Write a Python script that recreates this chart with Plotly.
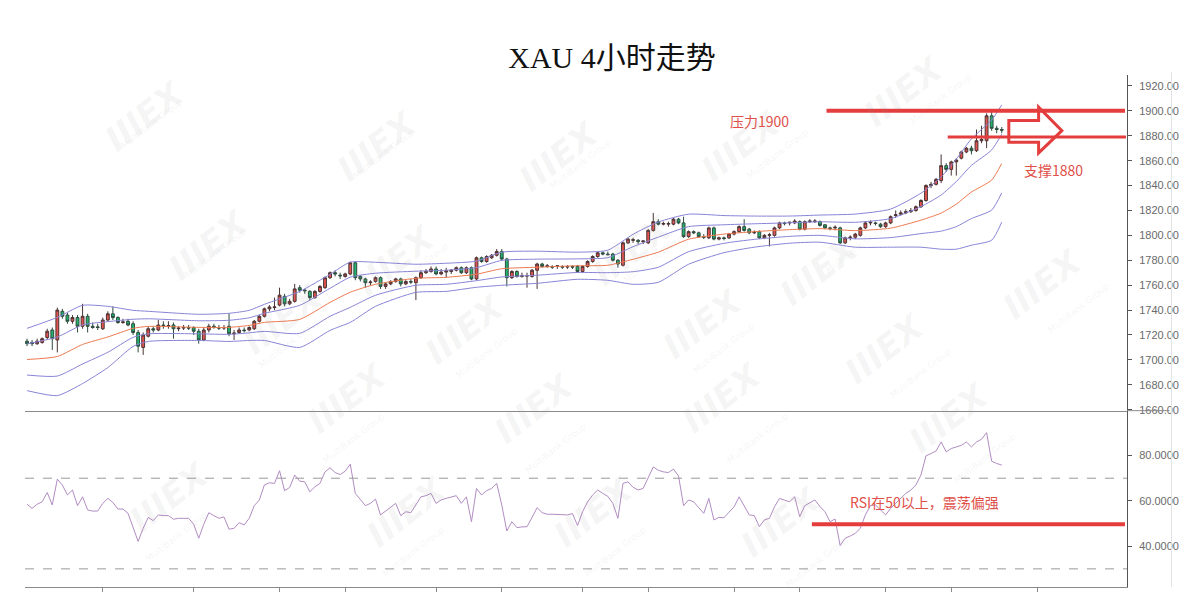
import plotly.graph_objects as go

# ---------------- data ----------------
opens = [1715,1714,1713,1714,1718,1724,1716,1739,1736,1731,
         1734,1727,1735,1727,1726.5,1725,1732,1737,1734,1730,
         1731,1729,1722,1710,1719,1725,1724,1728,1727,1728,
         1725,1725.5,1726,1726,1723,1716,1724,1727,1726,1725.5,
         1727,1721,1722,1724,1724,1725,1731,1735,1741,1742,
         1744,1751,1745,1747,1758,1756,1755,1750,1755,1758,
         1766,1770,1768,1767,1769,1778,1767,1765,1762,1763,
         1766,1759,1761,1763,1765,1761,1763,1762,1766,1770,
         1771,1773,1769,1770.5,1771,1772,1774,1770,1774,1765,
         1782,1779,1782,1784,1787,1781,1766,1771,1767,1767.5,
         1767,1772,1777,1775,1775,1775,1775,1774.5,1775,1775,
         1771,1775,1779,1783,1786,1785,1785,1780,1776,1794,
         1796,1796,1795,1794,1804,1811,1809,1809,1809,1813,
         1810,1799,1803,1802,1799,1798,1806,1797,1798,1798,
         1801,1803,1807,1805,1802,1803,1798,1800,1800,1806,
         1810,1810,1810,1811,1805,1811,1811,1811,1808.5,1806,
         1806,1806,1794,1798,1798.5,1800,1806,1810,1810,1809,
         1807,1810,1816,1817,1818,1819,1820,1823,1828,1840,
         1841,1844,1856,1853,1859,1862,1867,1870,1868,1876,
         1876,1896,1886,1885]
highs = [1717,1716,1717,1718,1725,1726,1742,1741,1738,1736,
         1736,1745,1737,1730,1729,1734,1739,1743,1735,1733,
         1733,1731,1724,1722,1727,1727,1732,1731,1731,1730,
         1727,1728,1728,1727,1725,1726,1729,1729,1728,1728,
         1737,1724,1726,1726,1727,1732,1736,1742,1744,1750,
         1758,1753,1749,1761,1760,1757,1756,1756,1760,1767,
         1771,1772,1770,1770,1779,1779,1768,1766,1764,1767,
         1767,1762,1764,1766,1766,1764,1765,1767,1772,1773,
         1775,1775,1773,1774,1773,1775,1775,1775,1775,1783,
         1783,1784,1785,1789,1789,1782,1772,1772,1770,1770,
         1773,1778,1778,1777,1776,1776,1776,1776,1776,1776,
         1776,1780,1784,1787,1787,1787,1786,1781,1795,1798,
         1798,1797,1796,1805,1818,1813,1811,1811,1814,1814,
         1815,1804,1804,1803,1801,1807,1807,1799,1799,1802,
         1804,1808,1813,1806,1804,1804,1801,1802,1807,1811,
         1811,1811,1813,1812,1812,1813,1813,1812,1809,1807,
         1808,1807,1799,1800,1802,1807,1811,1812,1811,1810,
         1811,1816,1820,1820,1821,1822,1824,1829,1841,1843,
         1846,1865,1858,1860,1862,1868,1871,1872,1885,1888,
         1898,1899,1888,1887]
lows = [1711,1711,1712,1713,1716,1708,1706,1733,1729,1729,
        1722,1725,1722,1725,1724,1724,1731,1732,1729,1729,
        1727,1720,1706,1704,1718,1722,1723,1725,1725,1717,
        1723,1724,1724,1720,1713,1715,1722,1725,1724,1724,
        1719,1716,1721,1722,1723,1724,1730,1734,1739,1740,
        1743,1743,1744,1746,1754,1753,1748,1749,1754,1757,
        1765,1767,1765,1766,1768,1764,1763,1758,1760,1762,
        1757,1757,1760,1762,1759,1760,1761,1748,1765,1769,
        1770,1768,1768,1766,1769,1771,1769,1769,1764,1764,
        1778,1778,1781,1783,1780,1759,1765,1766,1766,1758,
        1766,1757,1774,1774,1773,1773,1773,1773,1773,1770,
        1770,1774,1778,1782,1784,1784,1779,1774,1775,1793,
        1794,1793,1793,1793,1803,1808,1808,1807,1808,1809,
        1798,1798,1801,1798,1797,1797,1796,1796,1796,1797,
        1800,1802,1803,1801,1801,1797,1797,1791,1799,1805,
        1808,1808,1809,1804,1804,1810,1810,1807,1805,1804,
        1804,1793,1793,1796,1797,1799,1805,1808,1808,1806,
        1806,1809,1814,1816,1817,1818,1819,1822,1827,1838,
        1840,1842,1851,1848,1848,1861,1866,1865,1867,1874,
        1870,1884,1882,1882]
closes = [1713,1713,1715,1717,1723,1717,1740,1735,1731,1734,
          1727,1735,1727,1726,1726,1732,1737,1734,1730,1730.5,
          1728,1722,1711,1720,1725,1724,1728,1727.5,1727.5,1725,
          1725.5,1726,1725.5,1723,1716,1724,1727,1726,1725.5,1726,
          1721,1721.5,1724,1723.5,1726,1731,1735,1741,1742.5,1742.5,
          1752,1745,1747,1757,1756,1755.5,1750,1755,1759,1766,
          1770,1769,1767.5,1769,1778,1766,1765,1762,1762.5,1766,
          1759,1761,1763,1765,1761,1763,1762.5,1766,1770,1771,
          1773,1769,1770.5,1771.5,1772,1774,1770,1774,1765,1782,
          1779,1783,1784,1787,1781,1766,1771,1767,1767.5,1767.5,
          1772,1777,1775,1775.5,1774.5,1775.5,1774.5,1775,1774.5,1771,
          1775,1779,1783,1786,1785,1784.5,1780,1777,1794,1797,
          1796.5,1795,1795.5,1804,1811,1809,1809.5,1809.5,1813,1810,
          1799,1803,1802,1799,1798.5,1806,1797,1798,1797.5,1801,
          1803,1807,1804,1802,1802.5,1798,1800,1800.5,1806,1810,
          1809.5,1810.5,1811.5,1805,1811,1811.5,1811.5,1808,1806,1805.5,
          1806.5,1794,1798,1798.5,1801,1806,1810,1810.5,1809.5,1807,
          1810,1815,1816.5,1818,1819,1820,1823,1828,1840,1841,
          1845,1856,1853,1859,1860.5,1867,1870,1868,1876,1877,
          1896,1886,1885,1884.5]
rsi = [58.5,56.7,58.5,59.6,63.7,58.2,69.6,67.0,62.6,64.8,
       57.9,61.8,56.0,55.5,55.5,58.9,61.1,59.3,56.4,56.4,
       54.5,47.9,42.1,47.9,52.7,51.3,53.8,53.5,53.5,51.9,
       52.3,52.3,52.3,49.7,43.5,49.7,54.8,53.5,52.3,52.9,
       47.5,47.9,50.4,49.4,52.3,57.9,60.4,67.0,68.0,67.7,
       73.3,64.5,65.9,71.4,68.7,68.4,64.0,66.2,67.7,72.8,
       74.6,72.5,71.6,73.1,76.2,63.3,60.8,57.9,58.9,60.8,
       53.8,55.5,57.0,58.9,53.5,55.2,54.8,58.2,61.8,62.3,
       63.3,58.9,60.4,61.1,61.8,62.3,58.9,61.8,50.8,65.5,
       62.6,64.5,65.5,67.7,58.2,46.7,50.8,48.2,48.5,48.6,
       52.7,57.0,54.8,54.1,54.1,54.1,54.1,53.8,54.4,49.1,
       55.2,59.6,62.6,64.8,63.3,62.0,58.9,52.3,67.7,68.4,
       66.0,64.8,65.5,70.0,75.0,73.5,72.8,72.5,74.0,71.0,
       57.9,60.4,59.6,57.0,54.5,61.1,51.6,52.7,52.6,55.0,
       57.4,61.8,57.5,53.8,53.5,48.6,51.6,52.3,57.4,61.1,
       60.3,59.6,61.8,53.0,57.9,59.0,60.4,57.5,55.2,50.8,
       52.0,40.3,43.5,44.5,45.7,47.9,53.8,57.9,58.2,56.0,
       53.8,56.7,59.0,61.1,63.3,64.8,67.0,71.4,79.9,80.9,
       82.0,86.0,81.6,83.1,83.8,84.5,86.0,83.8,86.0,87.2,
       90.1,77.5,76.5,75.8]

band_idx = [0, 6, 11, 16, 21, 24, 34, 40, 44, 47, 54, 60, 64, 69, 77, 83, 89, 94,
            101, 109, 115, 120, 125, 131, 138, 144, 151, 157, 164, 171, 177, 181,
            184, 187, 191, 193]
bb_upper2 = [1725.3, 1734.1, 1743.8, 1743.0, 1739.8, 1739.0, 1736.6, 1737.4, 1739.8,
             1744.6, 1755.0, 1768.7, 1778.5, 1778.4, 1776.8, 1777.6, 1779.3, 1786.5,
             1787.3, 1786.5, 1788.1, 1800.9, 1810.7, 1817.0, 1815.9, 1815.5, 1815.5,
             1816.3, 1817.1, 1821.1, 1833.9, 1846.9, 1861.3, 1877.5, 1892.7, 1904.8]
bb_upper1 = [1712.8, 1718.4, 1728.1, 1730.7, 1732.6, 1733.0, 1731.4, 1731.8, 1733.8,
             1737.4, 1743.8, 1757.5, 1766.4, 1769.6, 1771.2, 1772.0, 1774.1, 1779.9,
             1780.9, 1781.1, 1782.1, 1790.9, 1798.6, 1807.0, 1808.5, 1809.3, 1810.1,
             1810.9, 1810.5, 1813.5, 1823.1, 1832.4, 1843.2, 1856.2, 1868.6, 1881.3]
bb_mid = [1700.3, 1702.7, 1712.4, 1718.4, 1725.3, 1726.9, 1726.1, 1726.1, 1727.7,
          1730.1, 1732.5, 1746.2, 1754.3, 1760.7, 1765.5, 1766.3, 1768.8, 1773.2,
          1774.4, 1775.6, 1776.0, 1780.8, 1786.5, 1796.9, 1801.0, 1803.0, 1804.6,
          1805.4, 1803.8, 1805.8, 1812.2, 1817.9, 1825.1, 1834.8, 1844.4, 1857.7]
bb_lower1 = [1687.8, 1687.0, 1696.7, 1706.1, 1718.1, 1720.9, 1720.9, 1720.5, 1721.7,
             1722.9, 1721.3, 1735.0, 1742.2, 1751.9, 1759.9, 1760.7, 1763.6, 1766.6,
             1768.0, 1770.2, 1770.0, 1770.8, 1774.4, 1786.9, 1793.6, 1796.8, 1799.2,
             1800.0, 1797.2, 1798.2, 1801.4, 1803.4, 1807.0, 1813.5, 1820.3, 1834.2]
bb_lower2 = [1675.3, 1671.3, 1681.0, 1693.8, 1710.8, 1714.8, 1715.6, 1714.8, 1715.6,
             1715.6, 1710.0, 1723.7, 1730.1, 1743.0, 1754.2, 1755.0, 1758.3, 1759.9,
             1761.5, 1764.7, 1763.9, 1760.7, 1762.3, 1776.8, 1786.1, 1790.5, 1793.7,
             1794.5, 1790.5, 1790.5, 1790.5, 1788.9, 1788.9, 1792.1, 1796.1, 1810.6]

price_ticks = [1660, 1680, 1700, 1720, 1740, 1760, 1780, 1800, 1820, 1840, 1860, 1880, 1900, 1920]
rsi_ticks = [40, 60, 80]
session_ticks = [15, 33, 50, 63, 81, 94, 110, 123, 140, 153, 170, 183, 200]

resistance = 1900
support = 1879
rsi_level = 49.7
rsi_upper = 70
rsi_lower = 30

title_text = "XAU 4小时走势"
resistance_label = "压力1900"
support_label = "支撑1880"
rsi_label = "RSI在50以上，震荡偏强"

# ---------------- figure ----------------
# the page body has an 8px margin, so the figure is sized/placed in page coords - 8
OFF = 8
W, H = 1183, 596
PL, PR, PT, PB = 25, 1140, 75, 589          # plot area in page pixels
ML, MR, MT, MB = PL - OFF, W - (PR - OFF), PT - OFF, H - (PB - OFF)
X_RANGE = [-0.4, 217.8]
SPLIT = 0.3444

RED = "#e43d3d"
TXT_RED = "#e0504a"
PURPLE = "#8884d6"
ORANGE = "#ec7a50"

idx = list(range(len(closes)))

fig = go.Figure()

def px2paper(px, py):
    return (px - PL) / (PR - PL), (PB - py) / (PB - PT)

# faint watermark (decoration)
wm_pos = [(95, 70), (330, 100), (565, 110), (800, 100), (965, 45),
          (160, 200), (400, 215), (640, 205), (880, 225),
          (235, 320), (470, 330), (710, 325), (945, 350), (1105, 285),
          (300, 445), (540, 455), (780, 445), (1010, 465),
          (120, 545), (360, 560), (600, 560), (840, 570)]
annotations = []
for (px, py) in wm_pos:
    ax_, ay_ = px2paper(px, py)
    annotations.append(dict(xref="paper", yref="paper", x=ax_, y=ay_, text="<b><i>IIIEX</i></b>",
                            showarrow=False, textangle=-38,
                            font=dict(family="DejaVu Sans", size=34, color="rgba(150,150,150,0.09)")))
    bx_, by_ = px2paper(px + 22, py + 24)
    annotations.append(dict(xref="paper", yref="paper", x=bx_, y=by_, text="MultiBank Group",
                            showarrow=False, textangle=-38,
                            font=dict(family="DejaVu Sans", size=9, color="rgba(150,150,150,0.11)")))

for ys, col in [(bb_upper2, PURPLE), (bb_upper1, PURPLE), (bb_mid, ORANGE),
                (bb_lower1, PURPLE), (bb_lower2, PURPLE)]:
    fig.add_trace(go.Scatter(x=band_idx, y=ys, mode="lines", xaxis="x", yaxis="y",
                             line=dict(color=col, width=1, shape="spline", smoothing=0.6),
                             hoverinfo="skip", showlegend=False))

fig.add_trace(go.Candlestick(
    x=idx, open=opens, high=highs, low=lows, close=closes,
    xaxis="x", yaxis="y", whiskerwidth=0,
    increasing=dict(fillcolor="#e4534f", line=dict(color="#4a3434", width=1)),
    decreasing=dict(fillcolor="#22b36e", line=dict(color="#2f4a3e", width=1)),
    showlegend=False, hoverinfo="skip"))

fig.add_trace(go.Scatter(x=idx, y=rsi, mode="lines", xaxis="x2", yaxis="y2",
                         line=dict(color="#b18cc2", width=1),
                         hoverinfo="skip", showlegend=False))

shapes = [
    dict(type="line", xref="paper", yref="y2", x0=0, x1=1, y0=rsi_upper, y1=rsi_upper,
         line=dict(color="#9a9a9a", width=1, dash="dash")),
    dict(type="line", xref="paper", yref="y2", x0=0, x1=1, y0=rsi_lower, y1=rsi_lower,
         line=dict(color="#9a9a9a", width=1, dash="dash")),
    dict(type="line", xref="x", yref="y", x0=158.3, x1=217.4, y0=resistance, y1=resistance,
         line=dict(color=RED, width=4)),
    dict(type="line", xref="x", yref="y", x0=182.3, x1=217.6, y0=support, y1=support,
         line=dict(color=RED, width=3)),
    dict(type="line", xref="x2", yref="y2", x0=155.4, x1=217.4, y0=rsi_level, y1=rsi_level,
         line=dict(color=RED, width=4)),
    dict(type="path", xref="x", yref="y",
         path="M 194.4,1892.2 L 200.3,1892.2 L 200.3,1903.0 L 204.9,1884.1 "
              "L 200.3,1866.2 L 200.3,1874.8 L 194.4,1874.8 Z",
         line=dict(color=RED, width=3)),
    dict(type="line", xref="paper", yref="paper", x0=1, x1=1.0386, y0=SPLIT, y1=SPLIT,
         line=dict(color="#8a8a8a", width=1)),
    dict(type="line", xref="paper", yref="paper", x0=1.0404, x1=1.0404, y0=0, y1=1.005,
         line=dict(color="#e2e2e2", width=1)),
]

annotations += [
    dict(xref="x", yref="y", x=145, y=1892, text=resistance_label, showarrow=False,
         font=dict(family="Noto Sans CJK SC", size=14, color=TXT_RED)),
    dict(xref="x", yref="y", x=203.3, y=1852.8, text=support_label, showarrow=False,
         font=dict(family="Noto Sans CJK SC", size=14, color=TXT_RED)),
    dict(xref="x2", yref="y2", x=177.8, y=59.3, text=rsi_label, showarrow=False,
         font=dict(family="Noto Sans CJK SC", size=14, color=TXT_RED)),
]

tick_font = dict(family="Liberation Sans, Arial", size=11, color="#6a6a6a")

fig.update_layout(
    width=W, height=H,
    margin=dict(l=ML, r=MR, t=MT, b=MB, pad=0),
    paper_bgcolor="white", plot_bgcolor="white",
    showlegend=False,
    boxgap=0.2,
    title=dict(text=title_text, x=(612 - OFF) / W, xanchor="center",
               y=1 - (57 - OFF) / H, yanchor="middle",
               font=dict(family="Liberation Serif, Noto Sans CJK SC", size=30, color="#111")),
    xaxis=dict(domain=[0, 1], anchor="y", range=X_RANGE, showline=True, linecolor="#8a8a8a",
               linewidth=1, showticklabels=False, ticks="", showgrid=False, zeroline=False,
               rangeslider=dict(visible=False)),
    yaxis=dict(domain=[SPLIT, 1], anchor="x", side="right", range=[1659.2, 1928.8],
               tickvals=price_ticks, tickformat=".2f", showline=True, linecolor="#555",
               linewidth=1, ticks="outside", ticklen=4, tickcolor="#555", showgrid=False,
               zeroline=False, tickfont=tick_font, ticklabelstandoff=5),
    xaxis2=dict(domain=[0, 1], anchor="y2", range=X_RANGE, showline=True, linecolor="#8a8a8a",
                linewidth=1, tickvals=session_ticks, ticktext=[""] * len(session_ticks),
                ticks="outside", ticklen=4, tickcolor="#8a8a8a", showgrid=False, zeroline=False),
    yaxis2=dict(domain=[0, SPLIT], anchor="x2", side="right", range=[22, 99.8],
                tickvals=rsi_ticks, tickformat=".4f", showline=True, linecolor="#555",
                linewidth=1, ticks="outside", ticklen=4, tickcolor="#555", showgrid=False,
                zeroline=False, tickfont=tick_font, ticklabelstandoff=5),
    shapes=shapes,
    annotations=annotations,
)

fig.write_html("out.html")
